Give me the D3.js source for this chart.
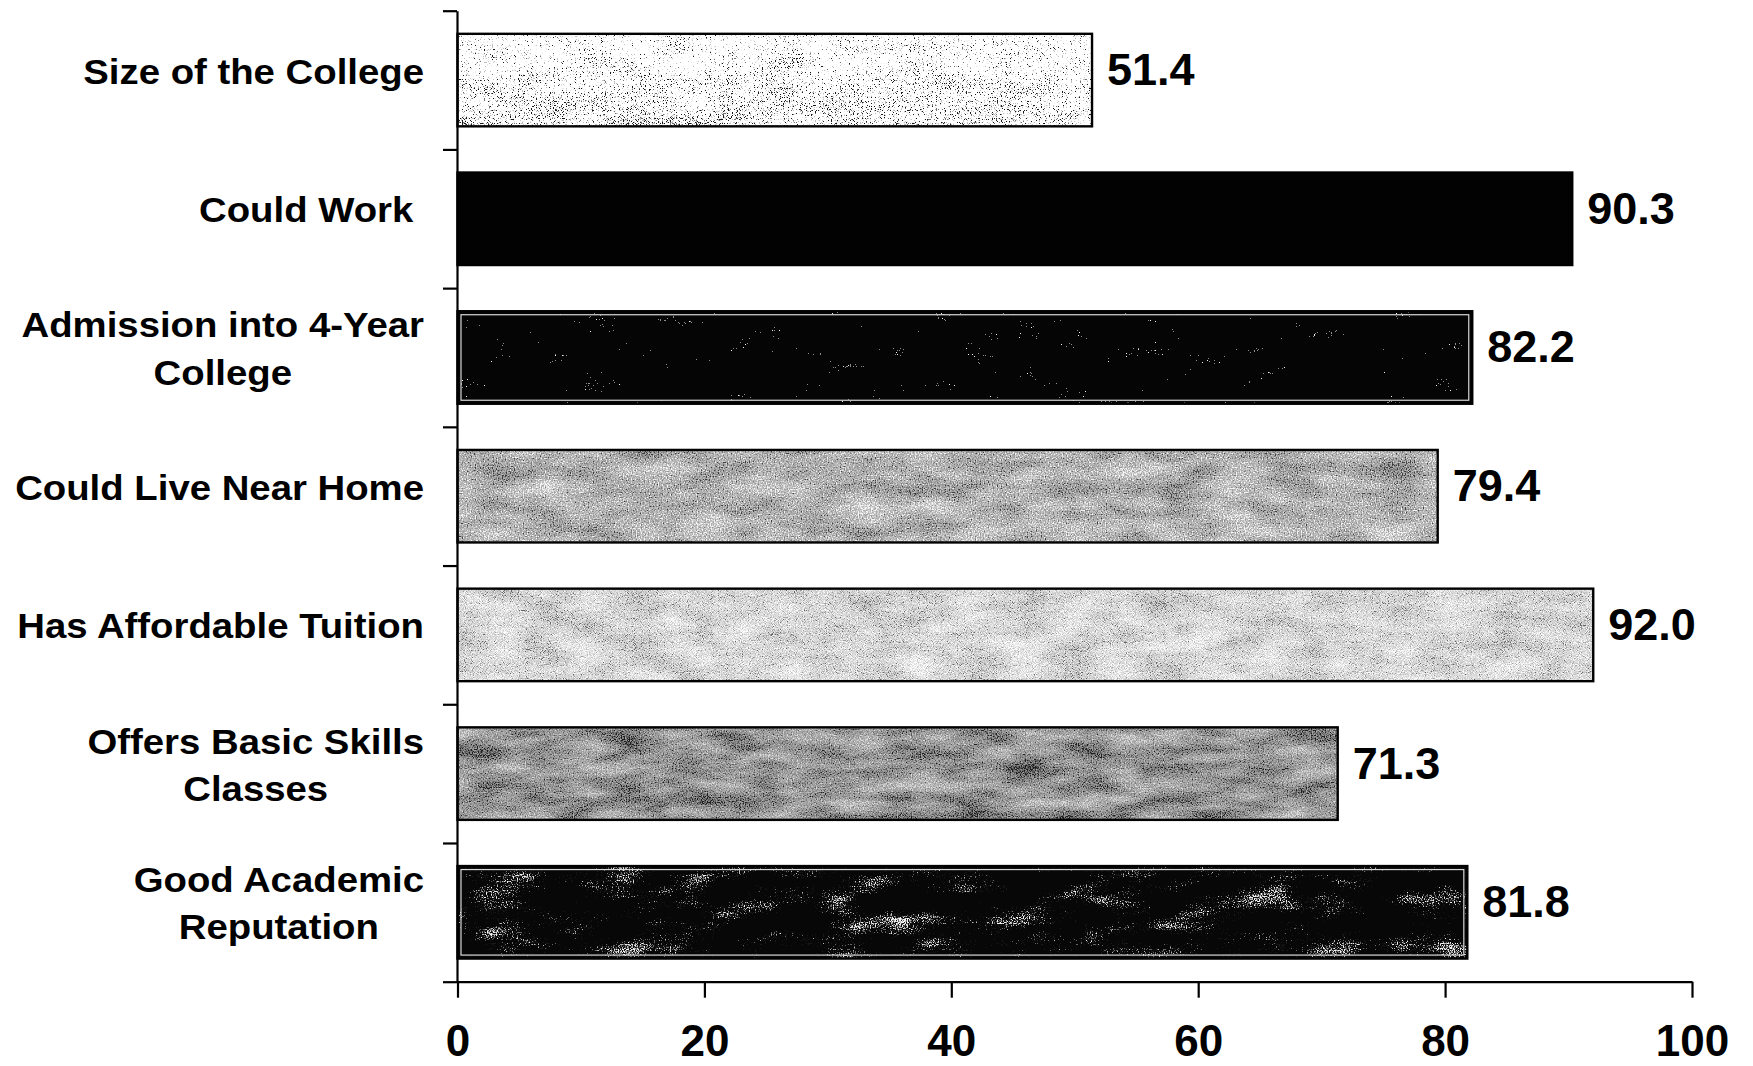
<!DOCTYPE html>
<html>
<head>
<meta charset="utf-8">
<script src="https://cdn.jsdelivr.net/npm/d3@7"></script>
<style>
  html, body { margin: 0; padding: 0; background: #fff; }
  svg { display: block; }
  text { font-family: "Liberation Sans", Arial, Helvetica, sans-serif; font-weight: bold; fill: #000; }
</style>
</head>
<body>
<svg id="chart" width="1753" height="1066"></svg>
<script>
// Reasons for choosing the college (percent of respondents)
const categories = [
  "Size of the College",
  "Could Work ",
  "Admission into 4-Year\nCollege",
  "Could Live Near Home",
  "Has Affordable Tuition",
  "Offers Basic Skills\nClasses",
  "Good Academic\nReputation"
];
const values = [51.4, 90.3, 82.2, 79.4, 92.0, 71.3, 81.8];
const xTickValues = [0, 20, 40, 60, 80, 100];

// Grainy fill for each bar: noise frequencies (non-integer so the grain never vanishes),
// contrast, grey levels and a vertical shading
const barTextures = [
  { fine: 1.23, coarse: "0.021 0.053", wf: 0.85, gain: 3.6, mid: 0.7, levels: "0.1 0.45 0.75 0.92 1 1 1 1 1 1", shade: [0.8, 0.2], sw: 0.1, seed: 3 },
  { solid: "#020202" },
  { fine: 0.83, coarse: "0.021 0.061", wf: 0.65, gain: 3.0, mid: 0.2, levels: "0.02 0.02 0.02 0.02 0.02 0.02 0.02 0.02 0.55 0.95", seed: 7, inset: true },
  { fine: 0.77, coarse: "0.019 0.052", wf: 0.72, gain: 2.4, mid: 0.55, levels: "0.25 0.48 0.6 0.68 0.75 0.84 0.96", shade: [0.35, 0.65], sw: 0.08, seed: 13 },
  { fine: 1.13, coarse: "0.021 0.049", wf: 0.75, gain: 2.4, mid: 0.55, levels: "0.4 0.62 0.76 0.83 0.89 0.95 1", shade: [0.4, 0.6], sw: 0.08, seed: 21 },
  { fine: 0.79, coarse: "0.018 0.063", wf: 0.62, gain: 2.4, mid: 0.5, levels: "0.12 0.35 0.5 0.6 0.67 0.75 0.86", seed: 31 },
  { fine: 0.81, coarse: "0.017 0.046", wf: 0.5, gain: 3.2, mid: 0.28, levels: "0.03 0.03 0.03 0.03 0.03 0.1 0.4 0.72 0.95", seed: 41, inset: true }
];

const svg = d3.select("#chart");
const defs = svg.append("defs");

const plotTop = 10.7, plotBottom = 981.7;
const x = d3.scaleLinear().domain([0, 100]).range([457.5, 1692]);
const y = d3.scaleBand().domain(d3.range(categories.length))
  .range([plotTop, plotBottom]).paddingInner(0.333).paddingOuter(0.1667);
const yEdge = d3.scaleLinear().domain([0, categories.length]).range([plotTop, plotBottom]);

function addTexture(i, t) {
  // vertical shading used as an extra input to the grain
  const shade = t.shade || [0.5, 0.5];
  const grad = defs.append("linearGradient").attr("id", "shade" + i)
    .attr("x1", 0).attr("y1", 0).attr("x2", 0).attr("y2", 1);
  grad.append("stop").attr("offset", 0).attr("stop-color", d3.gray(shade[0] * 100));
  grad.append("stop").attr("offset", 1).attr("stop-color", d3.gray(shade[1] * 100));

  const f = defs.append("filter").attr("id", "tex" + i)
    .attr("x", 0).attr("y", 0).attr("width", 1).attr("height", 1)
    .attr("color-interpolation-filters", "sRGB");
  const toGray = "1 0 0 0 0  1 0 0 0 0  1 0 0 0 0  0 0 0 0 1";
  f.append("feTurbulence").attr("type", "fractalNoise").attr("baseFrequency", t.fine)
    .attr("numOctaves", 1).attr("seed", t.seed).attr("result", "fineRaw");
  f.append("feColorMatrix").attr("in", "fineRaw").attr("type", "matrix").attr("values", toGray).attr("result", "fine");
  f.append("feTurbulence").attr("type", "fractalNoise").attr("baseFrequency", t.coarse)
    .attr("numOctaves", 3).attr("seed", t.seed + 11).attr("result", "coarseRaw");
  f.append("feColorMatrix").attr("in", "coarseRaw").attr("type", "matrix").attr("values", toGray).attr("result", "coarse");
  f.append("feComposite").attr("in", "fine").attr("in2", "coarse").attr("operator", "arithmetic")
    .attr("k1", 0).attr("k2", t.wf).attr("k3", 1 - t.wf).attr("k4", 0).attr("result", "mix0");
  const sw = t.sw || 0;
  f.append("feComposite").attr("in", "mix0").attr("in2", "SourceGraphic").attr("operator", "arithmetic")
    .attr("k1", 0).attr("k2", 1).attr("k3", sw).attr("k4", -0.5 * sw).attr("result", "mix");
  const s = t.gain, o = t.mid - 0.5 * t.gain;
  f.append("feColorMatrix").attr("in", "mix").attr("type", "matrix")
    .attr("values", `${s} 0 0 0 ${o}  ${s} 0 0 0 ${o}  ${s} 0 0 0 ${o}  0 0 0 0 1`).attr("result", "tone");
  const ct = f.append("feComponentTransfer").attr("in", "tone");
  ["feFuncR", "feFuncG", "feFuncB"].forEach(fn =>
    ct.append(fn).attr("type", "discrete").attr("tableValues", t.levels));
}

barTextures.forEach((t, i) => { if (!t.solid) addTexture(i, t); });

// Bars
const bars = svg.append("g").attr("class", "bars");
values.forEach((v, i) => {
  const t = barTextures[i];
  const x0 = x(0), x1 = x(v), y0 = y(i), h = y.bandwidth();
  const fill = bars.append("rect")
    .attr("x", x0).attr("y", y0).attr("width", x1 - x0).attr("height", h);
  if (t.solid) fill.attr("fill", t.solid);
  else fill.attr("fill", `url(#shade${i})`).attr("filter", `url(#tex${i})`);
  if (t.inset) {
    bars.append("rect")
      .attr("x", x0 + 3.5).attr("y", y0 + 3.5).attr("width", x1 - x0 - 7).attr("height", h - 7)
      .attr("fill", "none").attr("stroke", "#d8d8d8").attr("stroke-width", 1.2);
  }
  bars.append("rect")
    .attr("x", x0).attr("y", y0).attr("width", x1 - x0).attr("height", h)
    .attr("fill", "none").attr("stroke", "#000").attr("stroke-width", 2.4);
});

// Value labels
svg.append("g").selectAll("text").data(values).join("text")
  .attr("x", d => x(d) + 15)
  .attr("y", (d, i) => y(i) + y.bandwidth() / 2 + 5)
  .attr("font-size", 45)
  .text(d => d.toFixed(1));

// Category axis with ticks on the band boundaries
const yAxis = svg.append("g").attr("transform", `translate(${x(0) - 0.5},0)`)
  .call(d3.axisLeft(yEdge).tickValues(d3.range(categories.length + 1))
    .tickSize(14).tickSizeOuter(0).tickFormat(""));
yAxis.selectAll("path, line").attr("stroke", "#000").attr("stroke-width", 2.2);

// Value axis
const xAxis = svg.append("g").attr("transform", `translate(0,${plotBottom})`)
  .call(d3.axisBottom(x).tickValues(xTickValues).tickSize(16).tickSizeOuter(0).tickPadding(28));
xAxis.selectAll("path, line").attr("stroke", "#000").attr("stroke-width", 2.2);
xAxis.selectAll("text").attr("font-size", 44).attr("font-family", null).attr("fill", "#000")
  .attr("dy", "0.68em");

// Category labels, right-aligned blocks with centred lines
const labelRight = 424, lineGap = 47, stretch = 1.065;
categories.forEach((c, i) => {
  const lines = c.split("\n");
  const cy = y(i) + y.bandwidth() / 2;
  const g = svg.append("g").attr("transform", `translate(${labelRight},${cy}) scale(${stretch},1)`);
  const texts = lines.map((ln, k) => g.append("text")
    .attr("y", 3.5 + (k - (lines.length - 1) / 2) * lineGap)
    .attr("font-size", 36)
    .attr("text-anchor", "end")
    .style("white-space", "pre")
    .text(ln));
  if (lines.length > 1) {
    const w = d3.max(texts, t => t.node().getComputedTextLength());
    texts.forEach(t => t.attr("text-anchor", "middle").attr("x", -w / 2));
  }
});
</script>
</body>
</html>
